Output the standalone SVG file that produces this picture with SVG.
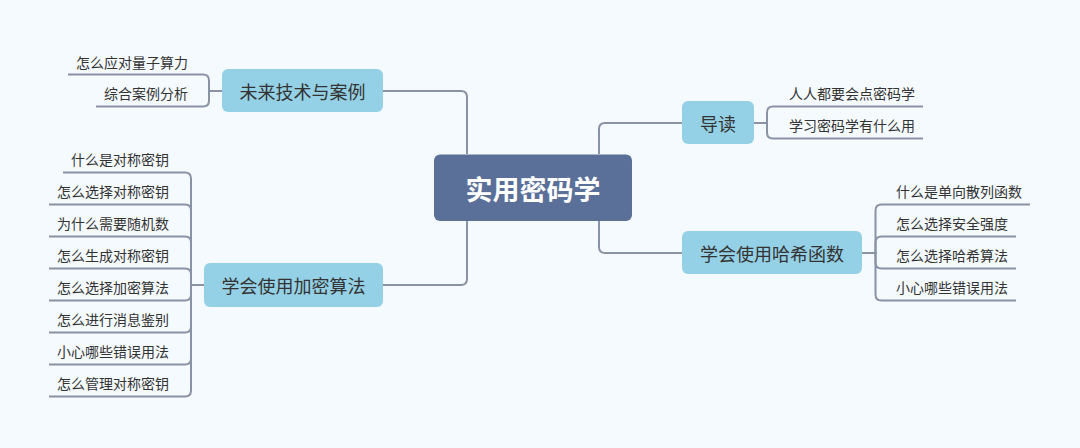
<svg xmlns="http://www.w3.org/2000/svg" width="1080" height="448" viewBox="0 0 1080 448">
<style>
.bg{fill:#F5FAFE}
.root rect{fill:#5A7099}
.root text{fill:#FFFFFF;font-family:"Noto Sans CJK SC","Noto Sans",sans-serif;font-size:27px;font-weight:bold;text-anchor:middle;dominant-baseline:central}
.main rect{fill:#95D1E6}
.main text{fill:#333333;font-family:"Noto Sans CJK SC","Noto Sans",sans-serif;font-size:18px;text-anchor:middle;dominant-baseline:central}
.leaf text{fill:#333333;font-family:"Noto Sans CJK SC","Noto Sans",sans-serif;font-size:14px;dominant-baseline:central}
.leaf text.l{text-anchor:end}
.leaf text.r{text-anchor:start}
#connectors path{fill:none;stroke:#8A92A5;stroke-width:2}
</style>
<rect class="bg" x="0" y="0" width="1080" height="448"/>
<g id="connectors">
<path d="M467 154 V97 Q467 91 461 91 H383"/>
<path d="M467 221 V279 Q467 285 461 285 H383"/>
<path d="M599 154 V129 Q599 123 605 123 H682"/>
<path d="M599 221 V247 Q599 253 605 253 H682"/>
<path d="M222 91 H209 V80.5 Q209 74.5 203 74.5 H68"/>
<path d="M222 91 H209 V100.5 Q209 106.5 203 106.5 H96"/>
<path d="M204 285 H191 V178.5 Q191 172.5 185 172.5 H63"/>
<path d="M204 285 H191 V210.5 Q191 204.5 185 204.5 H49"/>
<path d="M204 285 H191 V242.5 Q191 236.5 185 236.5 H49"/>
<path d="M204 285 H191 V274.5 Q191 268.5 185 268.5 H49"/>
<path d="M204 285 H191 V294.5 Q191 300.5 185 300.5 H49"/>
<path d="M204 285 H191 V326.5 Q191 332.5 185 332.5 H49"/>
<path d="M204 285 H191 V358.5 Q191 364.5 185 364.5 H49"/>
<path d="M204 285 H191 V390.5 Q191 396.5 185 396.5 H49"/>
<path d="M754 123 H767 V112.5 Q767 106.5 773 106.5 H923"/>
<path d="M754 123 H767 V132.5 Q767 138.5 773 138.5 H923"/>
<path d="M862 253 H875.5 V210.5 Q875.5 204.5 881.5 204.5 H1030"/>
<path d="M862 253 H875.5 V242.5 Q875.5 236.5 881.5 236.5 H1016"/>
<path d="M862 253 H875.5 V262.5 Q875.5 268.5 881.5 268.5 H1016"/>
<path d="M862 253 H875.5 V294.5 Q875.5 300.5 881.5 300.5 H1016"/>
</g>
<g id="root" class="root">
<rect x="434" y="154.5" width="198" height="66.5" rx="6"/>
<text x="533" y="188">实用密码学</text>
</g>
<g id="n-future" class="main">
<rect x="222" y="69" width="161" height="43" rx="6"/>
<text x="302.5" y="90.5">未来技术与案例</text>
</g>
<g id="n-intro" class="main">
<rect x="682" y="101" width="72" height="43" rx="6"/>
<text x="718" y="122.5">导读</text>
</g>
<g id="n-hash" class="main">
<rect x="682" y="231" width="180" height="43" rx="6"/>
<text x="772" y="252.5">学会使用哈希函数</text>
</g>
<g id="n-crypto" class="main">
<rect x="204" y="263" width="179" height="44" rx="6"/>
<text x="293.5" y="285">学会使用加密算法</text>
</g>
<g id="future-children" class="leaf">
<g id="f1"><text class="l" x="188" y="61.5">怎么应对量子算力</text></g>
<g id="f2"><text class="l" x="188" y="93">综合案例分析</text></g>
</g>
<g id="crypto-children" class="leaf">
<g id="c1"><text class="l" x="169" y="159">什么是对称密钥</text></g>
<g id="c2"><text class="l" x="169" y="191">怎么选择对称密钥</text></g>
<g id="c3"><text class="l" x="169" y="223">为什么需要随机数</text></g>
<g id="c4"><text class="l" x="169" y="255">怎么生成对称密钥</text></g>
<g id="c5"><text class="l" x="169" y="287">怎么选择加密算法</text></g>
<g id="c6"><text class="l" x="169" y="319">怎么进行消息鉴别</text></g>
<g id="c7"><text class="l" x="169" y="351">小心哪些错误用法</text></g>
<g id="c8"><text class="l" x="169" y="383">怎么管理对称密钥</text></g>
</g>
<g id="intro-children" class="leaf">
<g id="i1"><text class="r" x="789" y="93">人人都要会点密码学</text></g>
<g id="i2"><text class="r" x="789" y="125">学习密码学有什么用</text></g>
</g>
<g id="hash-children" class="leaf">
<g id="h1"><text class="r" x="896" y="191">什么是单向散列函数</text></g>
<g id="h2"><text class="r" x="896" y="223">怎么选择安全强度</text></g>
<g id="h3"><text class="r" x="896" y="255">怎么选择哈希算法</text></g>
<g id="h4"><text class="r" x="896" y="287">小心哪些错误用法</text></g>
</g>
</svg>
